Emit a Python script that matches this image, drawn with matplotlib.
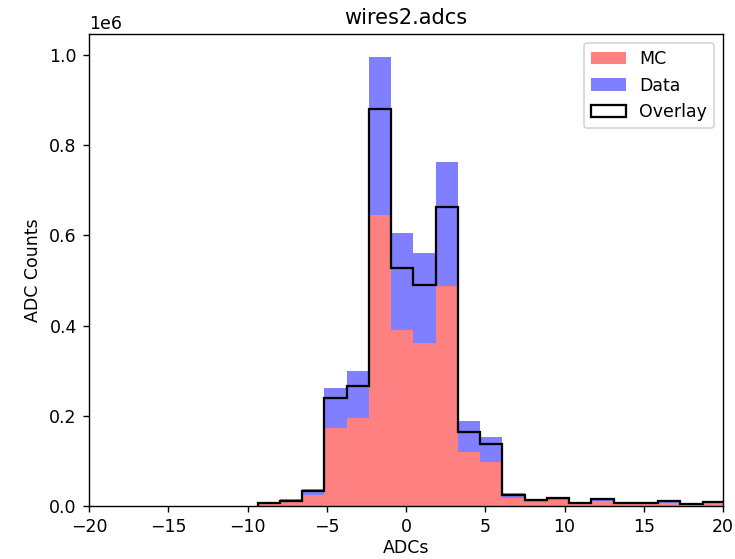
import numpy as np
import matplotlib.pyplot as plt

# bin layout of the wire ADC histograms (21 bins, width ~1.404)
bin_lo = -9.36
bin_w = 1.404
n_bins = 21

# counts per bin
mc = [4000, 10000, 24000, 172000, 194000, 645000, 390000, 362000, 488000, 120000,
      98000, 18000, 9500, 13000, 4000, 10000, 4000, 4000, 7000, 2000, 6000]
data = [7000, 15000, 37000, 262000, 299000, 996000, 605000, 562000, 763000, 189000,
        154000, 28000, 15000, 18000, 7000, 16000, 7000, 7000, 13000, 5000, 10000]
overlay = [6000, 12000, 34000, 239000, 267000, 880000, 527000, 490000, 662000, 165000,
           137000, 25000, 13000, 17000, 6000, 15000, 6000, 6000, 12000, 4000, 9500]

edges = bin_lo + bin_w * np.arange(n_bins + 1)
centers = 0.5 * (edges[:-1] + edges[1:])

fig = plt.figure(figsize=(735 / 125, 559 / 125), dpi=125)
ax = fig.add_axes([89 / 735, 53 / 559, 634 / 735, 471.7 / 559])

_, _, p_data = ax.hist(centers, bins=edges, weights=data, color='blue', alpha=0.5, label='Data')
_, _, p_mc = ax.hist(centers, bins=edges, weights=mc, color='#ff8080', label='MC')
_, _, p_ov = ax.hist(centers, bins=edges, weights=overlay, histtype='step', color='black',
                     lw=1.3, label='Overlay')

ax.set_xlim(-20, 20)
ax.set_title('wires2.adcs')
ax.set_xlabel('ADCs', labelpad=1.5)
ax.set_ylabel('ADC Counts')
ax.legend(handles=[p_mc[0], p_data[0], p_ov[0]], loc='upper right')

fig.savefig('out.png', dpi=125)
